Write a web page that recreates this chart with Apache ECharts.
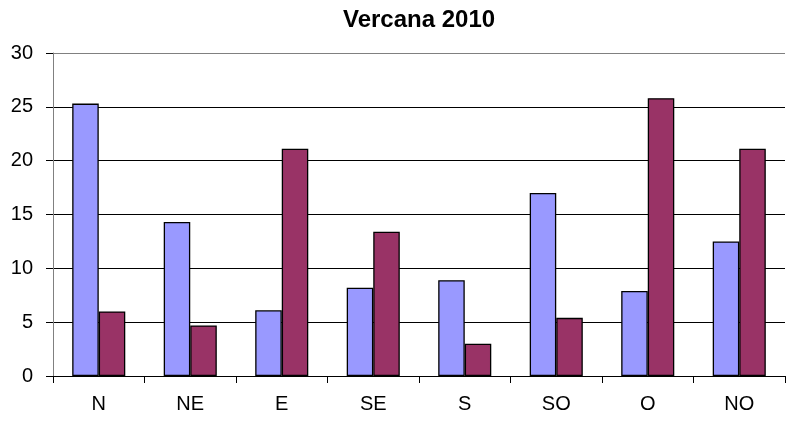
<!DOCTYPE html>
<html>
<head>
    <meta charset="UTF-8">
    <title>Vercana 2010</title>
    <style>
        html, body { margin: 0; padding: 0; background: #fff; }
        #main { width: 791px; height: 421px; }
    </style>
</head>
<body>
<div id="main"></div>
<script src="https://cdn.jsdelivr.net/npm/echarts@6/dist/echarts.min.js"></script>
<script>
    // dati
    var categories = ['N', 'NE', 'E', 'SE', 'S', 'SO', 'O', 'NO'];
    var serieA = [25.3, 14.3, 6.1, 8.2, 8.9, 17.0, 7.9, 12.5];
    var serieB = [6.0, 4.7, 21.1, 13.4, 3.0, 5.4, 25.8, 21.1];

    var myChart = echarts.init(document.getElementById('main'));
    var font = 'Liberation Sans, Arial, sans-serif';

    var option = {
        animation: false,
        backgroundColor: '#fff',
        title: {
            text: 'Vercana 2010',
            left: 343,
            top: 8,
            padding: 0,
            textStyle: {
                fontFamily: font,
                fontSize: 24,
                fontWeight: 'bold',
                color: '#000'
            }
        },
        grid: {
            left: 53,
            right: 6,
            top: 53,
            bottom: 45
        },
        xAxis: {
            type: 'category',
            data: categories,
            axisLine: { lineStyle: { color: '#000', width: 1 } },
            axisTick: { show: true, length: 7, lineStyle: { color: '#000' } },
            axisLabel: {
                margin: 18,
                fontFamily: font,
                fontSize: 20,
                color: '#000'
            }
        },
        yAxis: {
            type: 'value',
            min: 0,
            max: 30,
            interval: 5,
            axisLine: { show: true, lineStyle: { color: '#808080', width: 1 } },
            axisTick: { show: true, length: 7, lineStyle: { color: '#000' } },
            axisLabel: {
                margin: 20,
                fontFamily: font,
                fontSize: 20,
                color: '#000'
            },
            splitLine: {
                lineStyle: {
                    color: ['#000', '#000', '#000', '#000', '#000', '#000', '#808080'],
                    width: 1
                }
            }
        },
        series: [
            {
                type: 'bar',
                data: serieA,
                barGap: '0%',
                barCategoryGap: '42%',
                itemStyle: { color: '#9999FF', borderColor: '#000', borderWidth: 1.3 }
            },
            {
                type: 'bar',
                data: serieB,
                barGap: '0%',
                barCategoryGap: '42%',
                itemStyle: { color: '#993366', borderColor: '#000', borderWidth: 1.3 }
            }
        ]
    };
    myChart.setOption(option);
</script>
</body>
</html>
